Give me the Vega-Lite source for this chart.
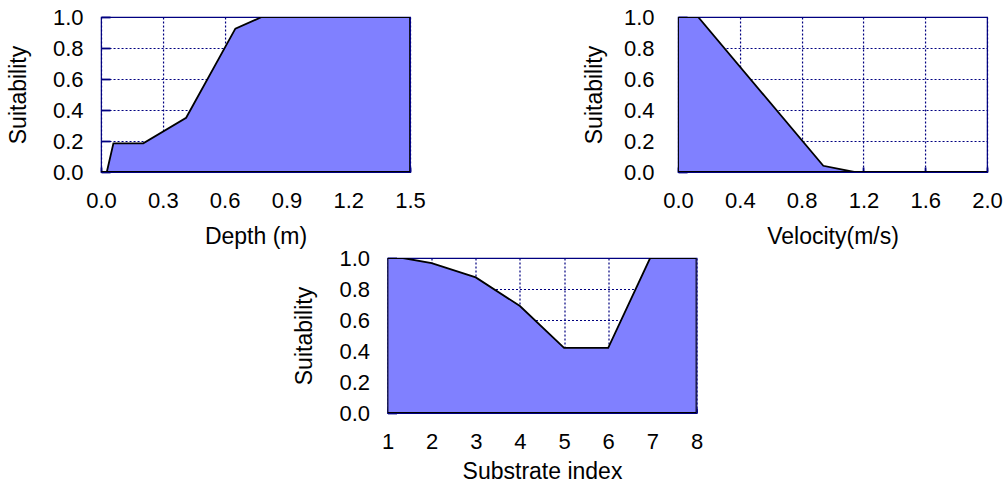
{
  "$schema": "https://vega.github.io/schema/vega-lite/v6.json",
  "padding": {"left": 6, "top": 5, "right": 2, "bottom": 2},
  "background": "white",
  "center": true,
  "spacing": -3,
  "config": {
    "font": "Liberation Sans",
    "view": {"stroke": "#000080", "strokeWidth": 1.2},
    "axis": {
      "labelFont": "Liberation Sans",
      "titleFont": "Liberation Sans",
      "labelFontSize": 22,
      "titleFontSize": 23,
      "titleFontWeight": "normal",
      "labelColor": "black",
      "titleColor": "black",
      "domain": false,
      "ticks": true,
      "tickSize": -5,
      "tickColor": "#000080",
      "tickWidth": 1.8,
      "grid": true,
      "gridColor": "#000080",
      "gridDash": [2, 2],
      "gridWidth": 1.2,
      "gridOpacity": 1,
      "labelFlush": false,
      "labelOverlap": false
    },
    "axisY": {"tickSize": -9},
    "area": {"fill": "#8080ff", "fillOpacity": 1, "stroke": "black", "strokeWidth": 1.8}
  },
  "datasets": {
    "depth": [
      {"x": 0, "y": 0},
      {"x": 0.028, "y": 0},
      {"x": 0.06, "y": 0.185},
      {"x": 0.205, "y": 0.185},
      {"x": 0.413, "y": 0.35},
      {"x": 0.652, "y": 0.925},
      {"x": 0.78, "y": 1.0},
      {"x": 1.5, "y": 1.0}
    ],
    "velocity": [
      {"x": 0, "y": 1.0},
      {"x": 0.13, "y": 1.0},
      {"x": 0.94, "y": 0.04},
      {"x": 1.14, "y": 0},
      {"x": 2.0, "y": 0}
    ],
    "substrate": [
      {"x": 1, "y": 1.0},
      {"x": 1.35, "y": 1.0},
      {"x": 2, "y": 0.967},
      {"x": 3, "y": 0.875},
      {"x": 4, "y": 0.69},
      {"x": 5, "y": 0.42},
      {"x": 6, "y": 0.42},
      {"x": 6.95, "y": 1.0},
      {"x": 8, "y": 1.0}
    ]
  },
  "vconcat": [
    {
      "hconcat": [
        {
          "width": 309,
          "height": 155,
          "data": {"name": "depth"},
          "mark": {"type": "area", "clip": true},
          "encoding": {
            "x": {"field": "x", "type": "quantitative", "title": "Depth (m)",
                  "scale": {"domain": [0, 1.5], "nice": false},
                  "axis": {"values": [0, 0.3, 0.6, 0.9, 1.2, 1.5], "format": ".1f", "labelPadding": 23, "titlePadding": 14}},
            "y": {"field": "y", "type": "quantitative", "title": "Suitability",
                  "scale": {"domain": [0, 1], "nice": false},
                  "axis": {"values": [0, 0.2, 0.4, 0.6, 0.8, 1.0], "format": ".1f", "labelPadding": 27, "titlePadding": 22}}
          }
        },
        {
          "width": 309,
          "height": 155,
          "data": {"name": "velocity"},
          "mark": {"type": "area", "clip": true},
          "encoding": {
            "x": {"field": "x", "type": "quantitative", "title": "Velocity(m/s)",
                  "scale": {"domain": [0, 2.0], "nice": false},
                  "axis": {"values": [0, 0.4, 0.8, 1.2, 1.6, 2.0], "format": ".1f", "labelPadding": 23, "titlePadding": 14}},
            "y": {"field": "y", "type": "quantitative", "title": "Suitability",
                  "scale": {"domain": [0, 1], "nice": false},
                  "axis": {"values": [0, 0.2, 0.4, 0.6, 0.8, 1.0], "format": ".1f", "labelPadding": 33, "titlePadding": 17}}
          }
        }
      ],
      "spacing": 156
    },
    {
      "hconcat": [
        {
          "width": 309,
          "height": 155,
          "data": {"name": "substrate"},
          "mark": {"type": "area", "clip": true},
          "encoding": {
            "x": {"field": "x", "type": "quantitative", "title": "Substrate index",
                  "scale": {"domain": [1, 8], "nice": false, "zero": false},
                  "axis": {"values": [1, 2, 3, 4, 5, 6, 7, 8], "format": "d", "labelPadding": 23, "titlePadding": 8}},
            "y": {"field": "y", "type": "quantitative", "title": "Suitability",
                  "scale": {"domain": [0, 1], "nice": false},
                  "axis": {"values": [0, 0.2, 0.4, 0.6, 0.8, 1.0], "format": ".1f", "labelPadding": 27, "titlePadding": 22}}
          }
        },
        {
          "width": 13,
          "height": 10,
          "view": {"stroke": null},
          "data": {"values": []},
          "mark": {"type": "point", "opacity": 0},
          "encoding": {}
        }
      ],
      "spacing": 0
    }
  ]
}
